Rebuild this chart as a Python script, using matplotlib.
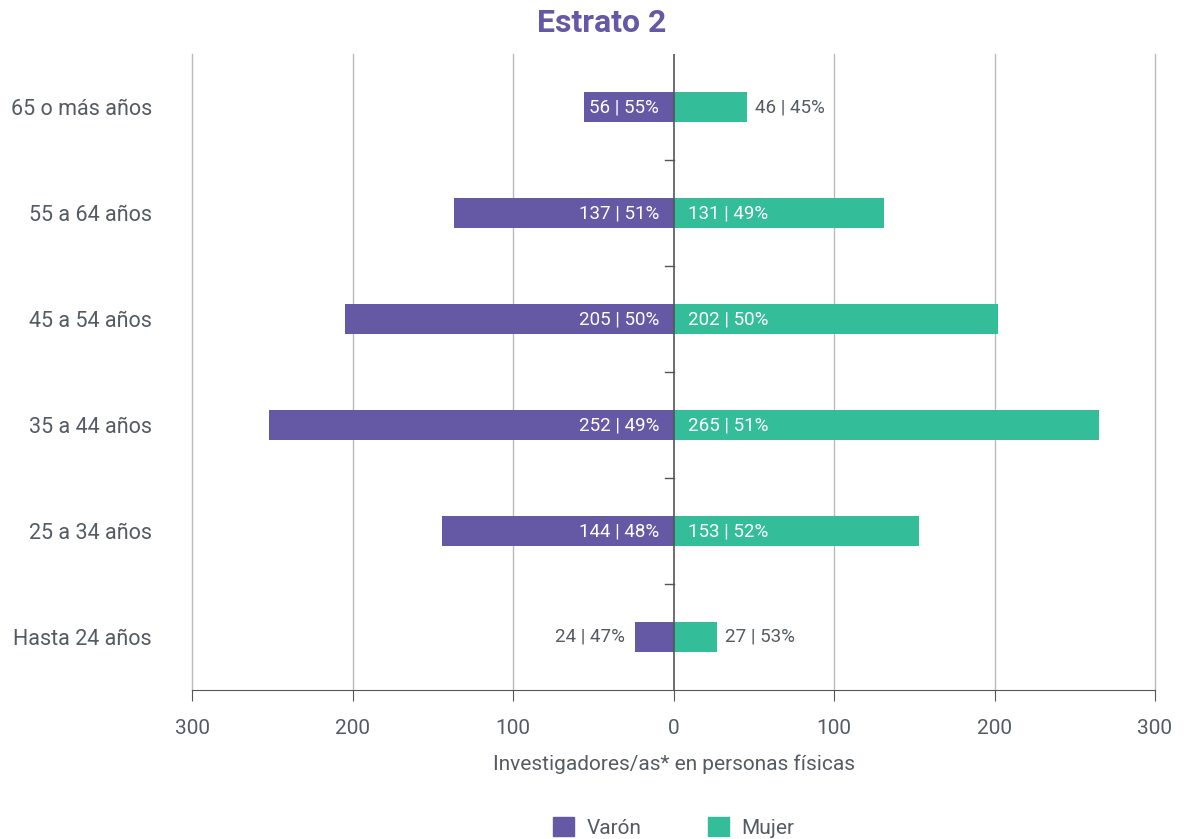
import matplotlib.pyplot as plt
from matplotlib.patches import Patch

plt.rcParams['font.family'] = ['Roboto', 'DejaVu Sans']

# data (bottom to top)
age_groups = ['Hasta 24 años', '25 a 34 años', '35 a 44 años', '45 a 54 años', '55 a 64 años', '65 o más años']
varon = [24, 144, 252, 205, 137, 56]
mujer = [27, 153, 265, 202, 131, 46]
varon_pct = [47, 48, 49, 50, 51, 55]
mujer_pct = [53, 52, 51, 50, 49, 45]
ticks = [-300, -200, -100, 0, 100, 200, 300]

purple = '#6558A5'
green = '#33BD99'
grey = '#555B63'

fig = plt.figure(figsize=(11.84, 8.39), dpi=100)
ax = fig.add_axes([0.1622, 0.1776, 0.8133, 0.758])

y = list(range(len(age_groups)))
ax.barh(y, [-v for v in varon], height=0.29, color=purple, zorder=3)
ax.barh(y, mujer, height=0.29, color=green, zorder=3)

# labels: inside (white) when bar is wide enough, otherwise outside (grey)
fs = 13.5
for i in y:
    lab = f'{varon[i]} | {varon_pct[i]}%'
    if varon[i] >= 50:
        ax.text(-9, i, lab, ha='right', va='center', color='white', fontsize=fs, zorder=4)
    else:
        ax.text(-varon[i] - 6, i, lab, ha='right', va='center', color=grey, fontsize=fs, zorder=4)
    lab = f'{mujer[i]} | {mujer_pct[i]}%'
    if mujer[i] >= 50:
        ax.text(9, i, lab, ha='left', va='center', color='white', fontsize=fs, zorder=4)
    else:
        ax.text(mujer[i] + 5, i, lab, ha='left', va='center', color=grey, fontsize=fs, zorder=4)

ax.set_xlim(-300, 300)
ax.set_ylim(-0.5, len(age_groups) - 0.5)
ax.set_xticks(ticks)
ax.set_xticklabels([str(abs(t)) for t in ticks])
ax.set_yticks(y)
ax.set_yticklabels(age_groups)

for t in ticks:
    if t == 0:
        continue
    ax.axvline(t, color='#BBBBBB', lw=1, zorder=1, clip_on=False)
ax.axvline(0, color='#555555', lw=1.2, zorder=5)

# small ticks between categories on the zero line
for k in range(len(age_groups) - 1):
    ax.plot([-5, 0], [k + 0.5, k + 0.5], color='#555555', lw=1, zorder=5)

for s in ['top', 'right', 'left']:
    ax.spines[s].set_visible(False)
ax.spines['bottom'].set_color('#555555')
ax.tick_params(axis='y', length=0, pad=29, labelsize=15.5, labelcolor=grey)
ax.tick_params(axis='x', length=8, color='#555555', pad=13, labelsize=15, labelcolor=grey)

ax.set_xlabel('Investigadores/as* en personas físicas', fontsize=15, color=grey, labelpad=12)

fig.text(0.508, 0.973, 'Estrato 2', ha='center', va='center', fontsize=23,
         fontweight='bold', color=purple)

handles = [Patch(color=purple, label='Varón'), Patch(color=green, label='Mujer')]
leg = ax.legend(handles=handles, loc='center', bbox_to_anchor=(0.5, -0.216), ncol=2,
                frameon=False, fontsize=15, handlelength=1.0, handleheight=1.0,
                columnspacing=3.2, handletextpad=0.6)
for t in leg.get_texts():
    t.set_color(grey)

fig.savefig('out.png', dpi=100)
